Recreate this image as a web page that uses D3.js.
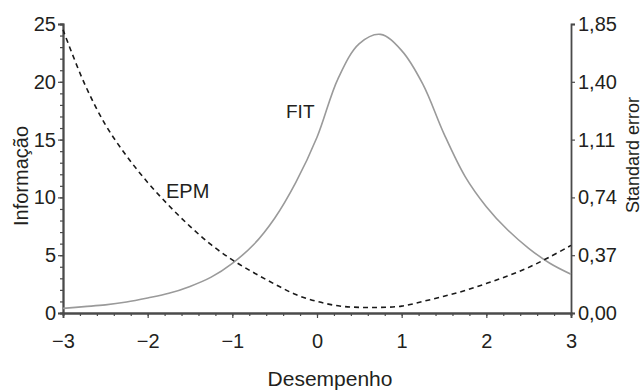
<!DOCTYPE html>
<html>
<head>
<meta charset="utf-8">
<script src="https://cdn.jsdelivr.net/npm/d3@7/dist/d3.min.js"></script>
<style>
  body { margin: 0; background: #fff; }
  text { font-family: "Liberation Sans", Arial, sans-serif; fill: #231f20; }
</style>
</head>
<body>
<svg id="chart" width="643" height="391"></svg>
<script>
// theta (desempenho) grid
const theta = [-3, -2.75, -2.5, -2.25, -2, -1.75, -1.5, -1.25, -1, -0.75, -0.5, -0.25,
  0, 0.25, 0.5, 0.75, 1, 1.25, 1.5, 1.75, 2, 2.25, 2.5, 2.75, 3];

// FIT: test information (left axis)
const fitInfo = [0.4, 0.55, 0.7, 0.95, 1.3, 1.7, 2.3, 3.1, 4.3, 5.9, 8.2, 11.3,
  15.2, 20.3, 23.3, 24.1, 22.7, 19.8, 15.5, 11.8, 9.2, 7.2, 5.6, 4.3, 3.35];

// EPM: standard error (right axis)
const epmSE = [1.813, 1.473, 1.206, 1.006, 0.836, 0.688, 0.555, 0.437, 0.340, 0.259, 0.185, 0.118,
  0.074, 0.046, 0.036, 0.036, 0.044, 0.074, 0.107, 0.144, 0.189, 0.237, 0.292, 0.359, 0.433];

const thetaTicks = [-3, -2, -1, 0, 1, 2, 3];
const infoTicks = [0, 5, 10, 15, 20, 25];
const seTicks = [0, 0.37, 0.74, 1.11, 1.48, 1.85];
const seLabels = ["0,00", "0,37", "0,74", "1,11", "1,40", "1,85"];

const margin = {top: 24, right: 72, bottom: 78, left: 63};
const width = 643, height = 391;
const svg = d3.select('#chart');

const x = d3.scaleLinear().domain([-3, 3]).range([margin.left, width - margin.right]);
const y = d3.scaleLinear().domain([0, 25]).range([height - margin.bottom, margin.top]);
const ySE = d3.scaleLinear().domain([0, 1.85]).range([height - margin.bottom, margin.top]);

const axisColor = '#4a4a4a';
const fmt = d => (d < 0 ? '\u2212' : '') + Math.abs(d);

function styleAxis(g) {
  g.select('.domain').attr('stroke', axisColor).attr('stroke-width', 1.8);
  g.selectAll('.tick line').attr('stroke', axisColor).attr('stroke-width', 1.2);
  g.selectAll('.tick text').attr('font-size', 20).attr('fill', '#231f20');
}

// x axis: minor ticks every 0.2, then majors
svg.append('g')
  .attr('transform', 'translate(0,' + y(0) + ')')
  .call(d3.axisBottom(x).tickValues(d3.range(-30, 31, 2).map(d => d / 10)).tickSize(3).tickFormat(''))
  .call(styleAxis);

svg.append('g')
  .attr('transform', 'translate(0,' + y(0) + ')')
  .call(d3.axisBottom(x).tickValues(thetaTicks).tickSize(5).tickPadding(16).tickFormat(fmt))
  .call(styleAxis);

// left axis
svg.append('g')
  .attr('transform', 'translate(' + x(-3) + ',0)')
  .call(d3.axisLeft(y).tickValues(d3.range(0, 26)).tickSize(3).tickFormat(''))
  .call(styleAxis);

svg.append('g')
  .attr('transform', 'translate(' + x(-3) + ',0)')
  .call(d3.axisLeft(y).tickValues(infoTicks).tickSize(5).tickPadding(2))
  .call(styleAxis);

// right axis
svg.append('g')
  .attr('transform', 'translate(' + x(3) + ',0)')
  .call(d3.axisRight(ySE).tickValues(seTicks).tickSize(4).tickPadding(3)
    .tickFormat((d, i) => seLabels[i]))
  .call(styleAxis);

// curves
const fitLine = d3.line()
  .x((d, i) => x(theta[i]))
  .y(d => y(d))
  .curve(d3.curveCatmullRom);

const seLine = d3.line()
  .x((d, i) => x(theta[i]))
  .y(d => ySE(d))
  .curve(d3.curveCatmullRom);

svg.append('path')
  .datum(fitInfo)
  .attr('d', fitLine)
  .attr('fill', 'none')
  .attr('stroke', '#9a9a9a')
  .attr('stroke-width', 1.6);

svg.append('path')
  .datum(epmSE)
  .attr('d', seLine)
  .attr('fill', 'none')
  .attr('stroke', '#1a1a1a')
  .attr('stroke-width', 1.6)
  .attr('stroke-dasharray', '5,4');

// curve labels
svg.append('text').attr('x', 286).attr('y', 118).attr('font-size', 19).text('FIT');
svg.append('text').attr('x', 166).attr('y', 198).attr('font-size', 20).text('EPM');

// axis titles
svg.append('text')
  .attr('x', 330).attr('y', 386)
  .attr('text-anchor', 'middle').attr('font-size', 21)
  .text('Desempenho');

svg.append('text')
  .attr('transform', 'translate(28,176) rotate(-90)')
  .attr('text-anchor', 'middle').attr('font-size', 20)
  .text('Informação');

svg.append('text')
  .attr('transform', 'translate(639,155) rotate(-90)')
  .attr('text-anchor', 'middle').attr('font-size', 18)
  .text('Standard error');
</script>
</body>
</html>
